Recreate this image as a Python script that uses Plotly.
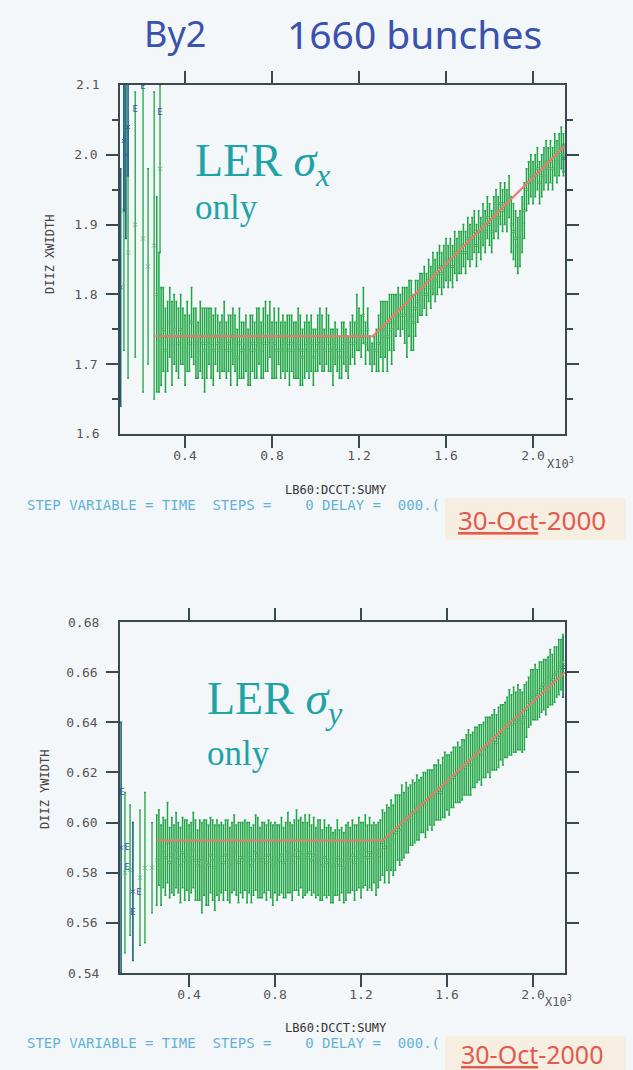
import plotly.graph_objects as go

W, H = 633, 1070


def px(x):
    return x / W


def py(y):
    return 1 - y / H


# ---------------- top panel : LER sigma_x ----------------
X_TOP = [270, 280, 290, 300, 310, 320, 330, 340, 350, 360,
         370, 380, 390, 400, 410, 420, 430, 440, 450, 460,
         470, 480, 490, 500, 510, 520, 530, 540, 550, 560,
         570, 580, 590, 600, 610, 620, 630, 640, 650, 660,
         670, 680, 690, 700, 710, 720, 730, 740, 750, 760,
         770, 780, 790, 800, 810, 820, 830, 840, 850, 860,
         870, 880, 890, 900, 910, 920, 930, 940, 950, 960,
         970, 980, 990, 1000, 1010, 1020, 1030, 1040, 1050, 1060,
         1070, 1080, 1090, 1100, 1110, 1120, 1130, 1140, 1150, 1160,
         1170, 1180, 1190, 1200, 1210, 1220, 1230, 1240, 1250, 1260,
         1270, 1280, 1290, 1300, 1310, 1320, 1330, 1340, 1350, 1360,
         1370, 1380, 1390, 1400, 1410, 1420, 1430, 1440, 1450, 1460,
         1470, 1480, 1490, 1500, 1510, 1520, 1530, 1540, 1550, 1560,
         1570, 1580, 1590, 1600, 1610, 1620, 1630, 1640, 1650, 1660,
         1670, 1680, 1690, 1700, 1710, 1720, 1730, 1740, 1750, 1760,
         1770, 1780, 1790, 1800, 1810, 1820, 1830, 1840, 1850, 1860,
         1870, 1880, 1890, 1900, 1910, 1920, 1930, 1940, 1950, 1960,
         1970, 1980, 1990, 2000, 2010, 2020, 2030, 2040, 2050, 2060,
         2070, 2080, 2090, 2100, 2110, 2120, 2130, 2140]
Y_TOP = [1.80, 1.76, 1.74, 1.75, 1.72, 1.74, 1.76, 1.73, 1.75, 1.74,
         1.73, 1.75, 1.74, 1.72, 1.74, 1.73, 1.76, 1.74, 1.73, 1.72,
         1.74, 1.73, 1.72, 1.73, 1.74, 1.73, 1.72, 1.74, 1.73, 1.72,
         1.73, 1.74, 1.72, 1.73, 1.72, 1.74, 1.73, 1.71, 1.73, 1.72,
         1.72, 1.73, 1.71, 1.72, 1.73, 1.72, 1.73, 1.74, 1.72, 1.73,
         1.74, 1.73, 1.75, 1.72, 1.73, 1.72, 1.74, 1.72, 1.73, 1.72,
         1.73, 1.72, 1.73, 1.72, 1.72, 1.73, 1.72, 1.71, 1.72, 1.73,
         1.72, 1.73, 1.71, 1.72, 1.73, 1.74, 1.73, 1.72, 1.74, 1.73,
         1.72, 1.71, 1.73, 1.72, 1.71, 1.72, 1.73, 1.72, 1.71, 1.73,
         1.74, 1.73, 1.76, 1.75, 1.74, 1.77, 1.73, 1.75, 1.72, 1.71,
         1.72, 1.72, 1.73, 1.75, 1.74, 1.75, 1.74, 1.76, 1.75, 1.76,
         1.77, 1.78, 1.77, 1.78, 1.77, 1.76, 1.78, 1.77, 1.76, 1.78,
         1.79, 1.80, 1.80, 1.81, 1.80, 1.82, 1.81, 1.83, 1.82, 1.83,
         1.84, 1.83, 1.84, 1.85, 1.84, 1.85, 1.84, 1.86, 1.85, 1.86,
         1.86, 1.87, 1.86, 1.88, 1.87, 1.88, 1.89, 1.87, 1.89, 1.88,
         1.90, 1.89, 1.91, 1.90, 1.89, 1.91, 1.92, 1.91, 1.93, 1.92,
         1.93, 1.92, 1.94, 1.90, 1.89, 1.88, 1.87, 1.88, 1.90, 1.92,
         1.95, 1.96, 1.97, 1.96, 1.97, 1.98, 1.96, 1.97, 1.98, 1.99,
         1.98, 1.99, 1.98, 2.00, 1.99, 2.00, 2.01, 2.00]
E_TOP = [0.14, 0.10, 0.07, 0.06, 0.06, 0.05, 0.05, 0.06, 0.05, 0.05,
         0.05, 0.05, 0.04, 0.05, 0.05, 0.04, 0.05, 0.04, 0.05, 0.04,
         0.05, 0.05, 0.06, 0.05, 0.04, 0.05, 0.05, 0.04, 0.04, 0.04,
         0.04, 0.05, 0.04, 0.04, 0.05, 0.04, 0.04, 0.04, 0.05, 0.04,
         0.04, 0.04, 0.04, 0.05, 0.04, 0.04, 0.05, 0.04, 0.04, 0.05,
         0.05, 0.04, 0.04, 0.04, 0.05, 0.04, 0.04, 0.04, 0.04, 0.04,
         0.04, 0.05, 0.04, 0.04, 0.04, 0.05, 0.05, 0.04, 0.04, 0.04,
         0.04, 0.04, 0.04, 0.03, 0.04, 0.04, 0.04, 0.03, 0.04, 0.04,
         0.03, 0.04, 0.03, 0.03, 0.03, 0.04, 0.03, 0.03, 0.03, 0.03,
         0.03, 0.03, 0.04, 0.03, 0.03, 0.04, 0.03, 0.03, 0.02, 0.02,
         0.02, 0.03, 0.04, 0.04, 0.05, 0.04, 0.05, 0.04, 0.05, 0.04,
         0.03, 0.03, 0.03, 0.03, 0.04, 0.05, 0.04, 0.05, 0.04, 0.04,
         0.03, 0.03, 0.03, 0.03, 0.03, 0.03, 0.03, 0.03, 0.03, 0.03,
         0.03, 0.03, 0.03, 0.03, 0.03, 0.03, 0.03, 0.03, 0.03, 0.03,
         0.03, 0.03, 0.03, 0.03, 0.03, 0.03, 0.03, 0.03, 0.03, 0.03,
         0.03, 0.03, 0.03, 0.03, 0.03, 0.03, 0.03, 0.03, 0.03, 0.03,
         0.03, 0.03, 0.03, 0.04, 0.04, 0.04, 0.04, 0.04, 0.04, 0.04,
         0.03, 0.03, 0.03, 0.03, 0.03, 0.03, 0.03, 0.03, 0.03, 0.03,
         0.03, 0.03, 0.03, 0.03, 0.03, 0.03, 0.03, 0.03]

X_TOP_EARLY_G = [119, 138, 171, 207, 230, 258, 285]
Y_TOP_EARLY_G = [1.92, 1.86, 1.90, 1.88, 1.84, 1.87, 1.98]
E_TOP_EARLY_G = [0.20, 0.18, 0.19, 0.22, 0.14, 0.22, 0.12]
X_TOP_EARLY_B = [104, 119, 128, 138, 2140]
Y_TOP_EARLY_B = [1.81, 2.02, 2.00, 2.04, 1.995]
E_TOP_EARLY_B = [0.17, 0.10, 0.12, 0.07, 0.02]
X_TOP_E = [171, 207, 285]
Y_TOP_E = [2.065, 2.097, 2.06]

FIT_TOP_X = [263, 1263, 2147]
FIT_TOP_Y = [1.740, 1.740, 2.013]

# ---------------- bottom panel : LER sigma_y ----------------
X_BOT = [250, 260, 270, 280, 290, 300, 310, 320, 330, 340,
         350, 360, 370, 380, 390, 400, 410, 420, 430, 440,
         450, 460, 470, 480, 490, 500, 510, 520, 530, 540,
         550, 560, 570, 580, 590, 600, 610, 620, 630, 640,
         650, 660, 670, 680, 690, 700, 710, 720, 730, 740,
         750, 760, 770, 780, 790, 800, 810, 820, 830, 840,
         850, 860, 870, 880, 890, 900, 910, 920, 930, 940,
         950, 960, 970, 980, 990, 1000, 1010, 1020, 1030, 1040,
         1050, 1060, 1070, 1080, 1090, 1100, 1110, 1120, 1130, 1140,
         1150, 1160, 1170, 1180, 1190, 1200, 1210, 1220, 1230, 1240,
         1250, 1260, 1270, 1280, 1290, 1300, 1310, 1320, 1330, 1340,
         1350, 1360, 1370, 1380, 1390, 1400, 1410, 1420, 1430, 1440,
         1450, 1460, 1470, 1480, 1490, 1500, 1510, 1520, 1530, 1540,
         1550, 1560, 1570, 1580, 1590, 1600, 1610, 1620, 1630, 1640,
         1650, 1660, 1670, 1680, 1690, 1700, 1710, 1720, 1730, 1740,
         1750, 1760, 1770, 1780, 1790, 1800, 1810, 1820, 1830, 1840,
         1850, 1860, 1870, 1880, 1890, 1900, 1910, 1920, 1930, 1940,
         1950, 1960, 1970, 1980, 1990, 2000, 2010, 2020, 2030, 2040,
         2050, 2060, 2070, 2080, 2090, 2100, 2110, 2120, 2130, 2140]
Y_BOT = [0.585, 0.590, 0.583, 0.588, 0.586, 0.592, 0.584, 0.587, 0.585, 0.589,
         0.586, 0.583, 0.588, 0.585, 0.587, 0.584, 0.586, 0.589, 0.585, 0.583,
         0.585, 0.582, 0.586, 0.584, 0.583, 0.587, 0.585, 0.582, 0.586, 0.584,
         0.586, 0.584, 0.587, 0.585, 0.583, 0.586, 0.588, 0.585, 0.584, 0.586,
         0.585, 0.587, 0.584, 0.586, 0.583, 0.585, 0.588, 0.586, 0.584, 0.585,
         0.586, 0.584, 0.587, 0.585, 0.583, 0.586, 0.584, 0.585, 0.587, 0.584,
         0.585, 0.588, 0.586, 0.584, 0.587, 0.589, 0.586, 0.588, 0.585, 0.587,
         0.586, 0.588, 0.585, 0.587, 0.584, 0.586, 0.585, 0.583, 0.586, 0.584,
         0.585, 0.583, 0.582, 0.584, 0.586, 0.583, 0.585, 0.582, 0.584, 0.586,
         0.585, 0.587, 0.584, 0.586, 0.588, 0.585, 0.587, 0.589, 0.586, 0.588,
         0.586, 0.588, 0.585, 0.587, 0.589, 0.592, 0.590, 0.594, 0.591, 0.595,
         0.593, 0.596, 0.598, 0.597, 0.600, 0.599, 0.602, 0.601, 0.603, 0.604,
         0.604, 0.606, 0.605, 0.607, 0.608, 0.607, 0.609, 0.610, 0.609, 0.611,
         0.612, 0.613, 0.612, 0.614, 0.615, 0.616, 0.615, 0.617, 0.618, 0.619,
         0.620, 0.619, 0.621, 0.622, 0.623, 0.624, 0.623, 0.625, 0.626, 0.627,
         0.628, 0.627, 0.629, 0.630, 0.631, 0.630, 0.632, 0.633, 0.632, 0.634,
         0.636, 0.635, 0.637, 0.638, 0.640, 0.639, 0.641, 0.640, 0.642, 0.641,
         0.640, 0.642, 0.645, 0.648, 0.650, 0.651, 0.652, 0.651, 0.653, 0.654,
         0.655, 0.654, 0.656, 0.658, 0.657, 0.659, 0.660, 0.662, 0.663, 0.664]
E_BOT = [0.018, 0.015, 0.016, 0.014, 0.015, 0.016, 0.014, 0.015, 0.014, 0.015,
         0.014, 0.015, 0.014, 0.016, 0.014, 0.015, 0.014, 0.015, 0.016, 0.014,
         0.016, 0.018, 0.015, 0.017, 0.016, 0.015, 0.016, 0.017, 0.015, 0.015,
         0.014, 0.015, 0.014, 0.016, 0.015, 0.014, 0.015, 0.014, 0.016, 0.014,
         0.015, 0.014, 0.016, 0.014, 0.015, 0.014, 0.015, 0.016, 0.014, 0.015,
         0.014, 0.015, 0.014, 0.015, 0.016, 0.014, 0.015, 0.014, 0.015, 0.014,
         0.015, 0.016, 0.014, 0.015, 0.014, 0.016, 0.015, 0.014, 0.015, 0.016,
         0.014, 0.015, 0.014, 0.015, 0.014, 0.015, 0.016, 0.014, 0.015, 0.014,
         0.014, 0.015, 0.014, 0.013, 0.015, 0.014, 0.013, 0.014, 0.015, 0.014,
         0.013, 0.014, 0.015, 0.013, 0.014, 0.015, 0.013, 0.014, 0.013, 0.014,
         0.013, 0.012, 0.014, 0.013, 0.012, 0.013, 0.014, 0.013, 0.015, 0.014,
         0.014, 0.015, 0.013, 0.014, 0.015, 0.013, 0.014, 0.013, 0.012, 0.013,
         0.012, 0.013, 0.012, 0.011, 0.012, 0.013, 0.012, 0.011, 0.012, 0.012,
         0.011, 0.012, 0.011, 0.012, 0.013, 0.011, 0.012, 0.011, 0.012, 0.011,
         0.012, 0.011, 0.012, 0.011, 0.012, 0.013, 0.012, 0.011, 0.012, 0.011,
         0.011, 0.012, 0.011, 0.012, 0.011, 0.012, 0.011, 0.012, 0.011, 0.012,
         0.011, 0.012, 0.011, 0.012, 0.013, 0.012, 0.013, 0.012, 0.013, 0.012,
         0.012, 0.013, 0.011, 0.010, 0.011, 0.010, 0.011, 0.010, 0.011, 0.010,
         0.010, 0.011, 0.010, 0.011, 0.010, 0.011, 0.010, 0.011, 0.010, 0.011]

X_BOT_EARLY_G = [102, 126, 172, 195, 228]
Y_BOT_EARLY_G = [0.580, 0.581, 0.578, 0.582, 0.582]
E_BOT_EARLY_G = [0.032, 0.026, 0.027, 0.030, 0.018]
X_BOT_EARLY_B = [84, 139, 2140]
Y_BOT_EARLY_B = [0.590, 0.5725, 0.662]
E_BOT_EARLY_B = [0.050, 0.0275, 0.012]
X_BOT_E = [88, 112, 112, 167, 139]
Y_BOT_E = [0.612, 0.590, 0.582, 0.572, 0.564]

FIT_BOT_X = [250, 1300, 2149]
FIT_BOT_Y = [0.5928, 0.5928, 0.660]

XTICK_VALS = [400, 800, 1200, 1600, 2000]
XTICK_TEXT = ["0.4", "0.8", "1.2", "1.6", "2.0"]
YTOP_VALS = [1.7, 1.8, 1.9, 2.0]
YTOP_TEXT = ["1.7", "1.8", "1.9", "2.0"]
YBOT_VALS = [0.56, 0.58, 0.60, 0.62, 0.64, 0.66]
YBOT_TEXT = ["0.56", "0.58", "0.60", "0.62", "0.64", "0.66"]

BG = "#f4f7fa"
FRAME = "#3c4a50"
GREEN = "#1fa543"
GREEN_M = "#5cb870"
BLUE = "#3553b5"
TEAL = "#1a6478"
RED = "#ec7a6c"
MONO = "DejaVu Sans Mono"

fig = go.Figure()


def add_panel(xs, ys, es, xg, yg, eg, xb, yb, eb, xe, ye, fx, fy, xa, ya):
    fig.add_trace(go.Scatter(
        x=xg, y=yg, mode="markers", xaxis=xa, yaxis=ya,
        marker=dict(symbol="x-thin", size=4, line=dict(width=1, color=GREEN_M)),
        error_y=dict(type="data", array=eg, color=GREEN, thickness=1.3, width=1),
        showlegend=False))
    fig.add_trace(go.Scatter(
        x=xb, y=yb, mode="markers", xaxis=xa, yaxis=ya,
        marker=dict(symbol="x-thin", size=4, line=dict(width=1, color=BLUE)),
        error_y=dict(type="data", array=eb, color=TEAL, thickness=1.6, width=1),
        showlegend=False))
    fig.add_trace(go.Scatter(
        x=xs, y=ys, mode="markers", xaxis=xa, yaxis=ya,
        marker=dict(symbol="x-thin", size=3, line=dict(width=1, color=GREEN_M)),
        error_y=dict(type="data", array=es, color=GREEN, thickness=1.5, width=1),
        showlegend=False))
    fig.add_trace(go.Scatter(
        x=xe, y=ye, mode="text", text=["E"] * len(xe), xaxis=xa, yaxis=ya,
        textfont=dict(family=MONO, size=9, color=BLUE), showlegend=False))
    fig.add_trace(go.Scatter(
        x=fx, y=fy, mode="lines", xaxis=xa, yaxis=ya,
        line=dict(color=RED, width=2), showlegend=False))


add_panel(X_TOP, Y_TOP, E_TOP, X_TOP_EARLY_G, Y_TOP_EARLY_G, E_TOP_EARLY_G,
          X_TOP_EARLY_B, Y_TOP_EARLY_B, E_TOP_EARLY_B, X_TOP_E, Y_TOP_E,
          FIT_TOP_X, FIT_TOP_Y, "x", "y")
add_panel(X_BOT, Y_BOT, E_BOT, X_BOT_EARLY_G, Y_BOT_EARLY_G, E_BOT_EARLY_G,
          X_BOT_EARLY_B, Y_BOT_EARLY_B, E_BOT_EARLY_B, X_BOT_E, Y_BOT_E,
          FIT_BOT_X, FIT_BOT_Y, "x2", "y2")

tickfont = dict(family=MONO, size=13, color="#555555")


def xaxis(domain, anchor, rng):
    return dict(domain=domain, anchor=anchor, range=rng, showline=True,
                mirror="ticks", linecolor=FRAME, linewidth=1.5, ticks="outside",
                ticklen=12, tickwidth=1.5, tickcolor=FRAME, tickvals=XTICK_VALS,
                ticktext=XTICK_TEXT, tickfont=tickfont, showgrid=False,
                zeroline=False, ticklabelstandoff=-3)


def yaxis(domain, anchor, rng, vals, text, minor):
    d = dict(domain=domain, anchor=anchor, range=rng, showline=True,
             mirror="ticks", linecolor=FRAME, linewidth=1.5, ticks="outside",
             ticklen=12, tickwidth=1.5, tickcolor=FRAME, tickvals=vals,
             ticktext=text, tickfont=tickfont, showgrid=False, zeroline=False,
             ticklabelstandoff=6)
    if minor:
        d["minor"] = dict(tickvals=minor, ticks="outside", ticklen=6,
                          tickwidth=1.5, tickcolor=FRAME, showgrid=False)
    return d


XDOM = [px(120), px(565)]
fig.update_layout(
    width=W, height=H, margin=dict(l=0, r=0, t=0, b=0),
    paper_bgcolor=BG, plot_bgcolor=BG,
    xaxis=xaxis(XDOM, "y", [101, 2147]),
    yaxis=yaxis([py(434), py(85)], "x", [1.6, 2.1], YTOP_VALS, YTOP_TEXT,
                [1.65, 1.75, 1.85, 1.95, 2.05]),
    xaxis2=xaxis(XDOM, "y2", [79, 2149]),
    yaxis2=yaxis([py(973), py(622)], "x2", [0.54, 0.68], YBOT_VALS, YBOT_TEXT,
                 None),
)

ann = []


def txt(x, y, s, size, color, family, xanchor="center", yanchor="middle",
        xref="paper", yref="paper", angle=0):
    ann.append(dict(x=x, y=y, xref=xref, yref=yref, text=s, showarrow=False,
                    xanchor=xanchor, yanchor=yanchor, textangle=angle,
                    font=dict(size=size, color=color, family=family)))


TITLE_C = "#3a52ad"
txt(px(175), py(33), "By2", 36, TITLE_C, "Noto Sans")
txt(px(414), py(33), "1660 bunches", 39, TITLE_C, "Noto Sans")

LER_C = "#1fa3a6"
SERIF = "Liberation Serif"
txt(px(193), py(164), "LER <i>σ<sub>x</sub></i>", 46, LER_C, SERIF, xanchor="left")
txt(px(193), py(207), "only", 35, LER_C, SERIF, xanchor="left")
txt(px(205), py(702), "LER <i>σ<sub>y</sub></i>", 46, LER_C, SERIF, xanchor="left")
txt(px(205), py(753), "only", 35, LER_C, SERIF, xanchor="left")

# y-axis titles
txt(px(50), py(255), "DIIZ XWIDTH", 12, "#444444", MONO, angle=-90)
txt(px(45), py(790), "DIIZ YWIDTH", 12, "#444444", MONO, angle=-90)

# end tick labels
for v in (2.1, 1.6):
    txt(px(101), v, "%.1f" % v, 13, "#555555", MONO, xanchor="right", yref="y")
for v in (0.68, 0.54):
    txt(px(101), v, "%.2f" % v, 13, "#555555", MONO, xanchor="right", yref="y2")

# multiplier labels
txt(px(545), py(463), "X10<sup>3</sup>", 12, "#555555", MONO, xanchor="left")
txt(px(543), py(1001), "X10<sup>3</sup>", 12, "#555555", MONO, xanchor="left")

STEP = "STEP VARIABLE = TIME\u00a0\u00a0STEPS =\u00a0\u00a0\u00a0\u00a00 DELAY =\u00a0\u00a0000.("
STEP_C = "#63b2d4"
txt(px(283), py(490), "LB60:DCCT:SUMY", 12, "#333333", MONO, xanchor="left")
txt(px(25), py(505), STEP, 14, STEP_C, MONO, xanchor="left")
txt(px(283), py(1028), "LB60:DCCT:SUMY", 12, "#333333", MONO, xanchor="left")
txt(px(25), py(1043), STEP, 14, STEP_C, MONO, xanchor="left")

DATE_C = "#e35a4f"
DATE = "<u>30-Oct</u>-2000"
txt(px(532), py(520), DATE, 26, DATE_C, "Noto Sans")
txt(px(532), py(1054), DATE, 25, DATE_C, "Noto Sans")

fig.update_layout(
    annotations=ann,
    shapes=[
        dict(type="rect", xref="paper", yref="paper", x0=px(445), x1=px(626),
             y0=py(540), y1=py(498), fillcolor="#f6efe1", line=dict(width=0),
             layer="below"),
        dict(type="rect", xref="paper", yref="paper", x0=px(445), x1=px(626),
             y0=py(1072), y1=py(1036), fillcolor="#f6efe1", line=dict(width=0),
             layer="below"),
    ])

fig.write_html("out.html")
